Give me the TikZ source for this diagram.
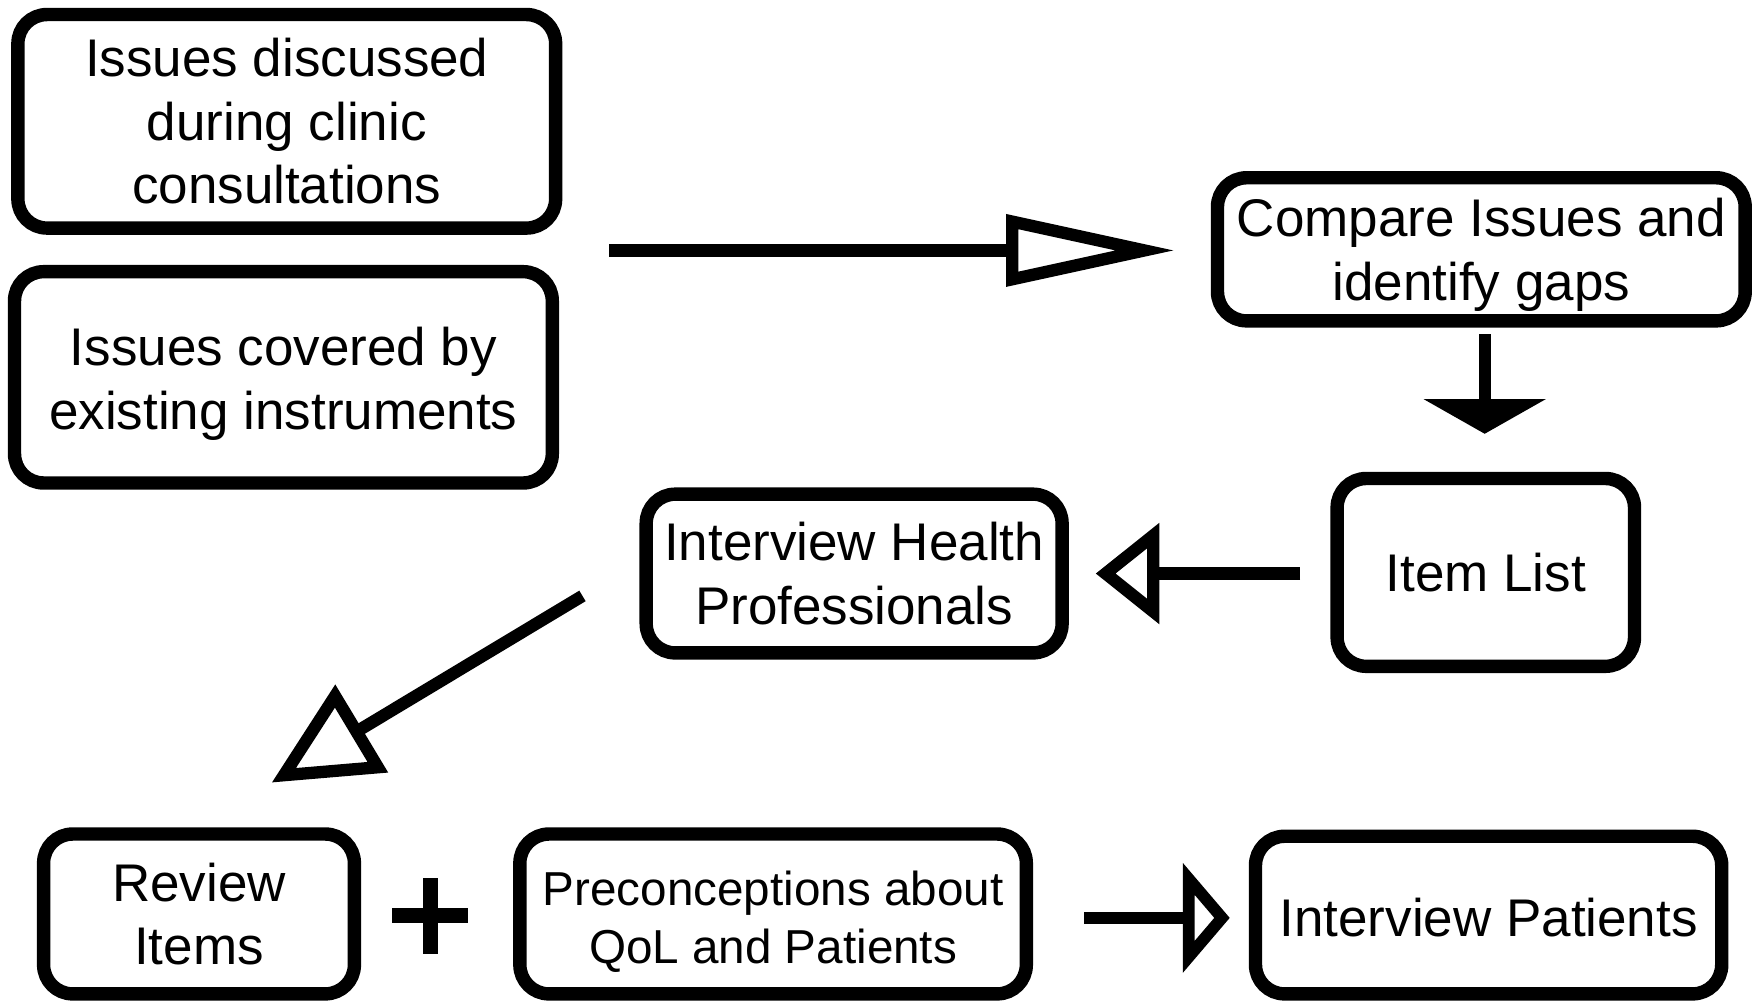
\documentclass[tikz,border=0pt]{standalone}
\usepackage{fontspec}
\setmainfont{Liberation Sans}
\usetikzlibrary{arrows.meta}
\newcommand{\lowertext}[2]{\raisebox{-#1}[\height][\depth]{\begin{tabular}{@{}c@{}}#2\end{tabular}}}
\begin{document}
\begin{tikzpicture}[x=0.5pt,y=-0.5pt,
  box/.style={draw, line width=6pt, rounded corners=13pt, inner sep=0pt, align=center,
    font=\fontsize{23.7}{28.5}\selectfont},
  conn/.style={line width=5.5pt},
  plusbar/.style={line width=6.5pt}
  ]
\fill[white] (0,0) rectangle (1568,895);
\useasboundingbox (0,0) rectangle (1568,895);

\node[box, minimum width=240.5pt, minimum height=95.5pt] (disc) at (256.5,108.5)
  {Issues discussed\\during clinic\\consultations};
\node[box, minimum width=240.5pt, minimum height=94.5pt] (cov) at (253.5,337.5)
  {\lowertext{3.25pt}{Issues covered by\\existing instruments}};
\node[box, minimum width=236pt, minimum height=64pt] (cmp) at (1325,223)
  {\lowertext{3pt}{Compare Issues and\\identify gaps}};
\node[box, minimum width=133pt, minimum height=84pt] (item) at (1329,512)
  {Item List};
\node[box, minimum width=186pt, minimum height=71pt] (ihp) at (764,513)
  {Interview Health\\Professionals};
\node[box, minimum width=139pt, minimum height=71.5pt] (rev) at (178,817.5)
  {Review\\Items};
\node[box, minimum width=226.5pt, minimum height=71.5pt,
  font=\fontsize{21.3}{26}\selectfont] (pre) at (691.5,817.5)
  {\lowertext{4pt}{Preconceptions about\\QoL and Patients}};
\node[box, minimum width=208.5pt, minimum height=70.5pt] (ipat) at (1331.5,818.5)
  {\lowertext{4pt}{Interview Patients}};

\coordinate (a1s) at (545,224);
\coordinate (a1e) at (1051,224);
\coordinate (a2s) at (1328,299);
\coordinate (a2e) at (1328,388);
\coordinate (a3s) at (1163,513);
\coordinate (a3e) at (980,513);
\coordinate (a4s) at (521,533);
\coordinate (a4e) at (243,700);
\coordinate (a5s) at (970,821);
\coordinate (a5e) at (1100,821);
\coordinate (plus) at (385,819);

\draw[conn, -{Triangle[open, length=75.5pt, width=31pt]}] (a1s) -- (a1e);
\draw[conn, -{Triangle[length=15.5pt, width=54pt]}] (a2s) -- (a2e);
\draw[conn, -{Triangle[open, length=28.5pt, width=44pt]}] (a3s) -- (a3e);
\draw[conn, -{Triangle[open, length=47pt, width=44.5pt]}] (a4s) -- (a4e);
\draw[conn, -{Triangle[open, length=21pt, width=48pt]}] (a5s) -- (a5e);

\draw[plusbar] ([xshift=-17pt]plus) -- ([xshift=17pt]plus);
\draw[plusbar] ([yshift=-17pt]plus) -- ([yshift=17pt]plus);
\end{tikzpicture}
\end{document}
